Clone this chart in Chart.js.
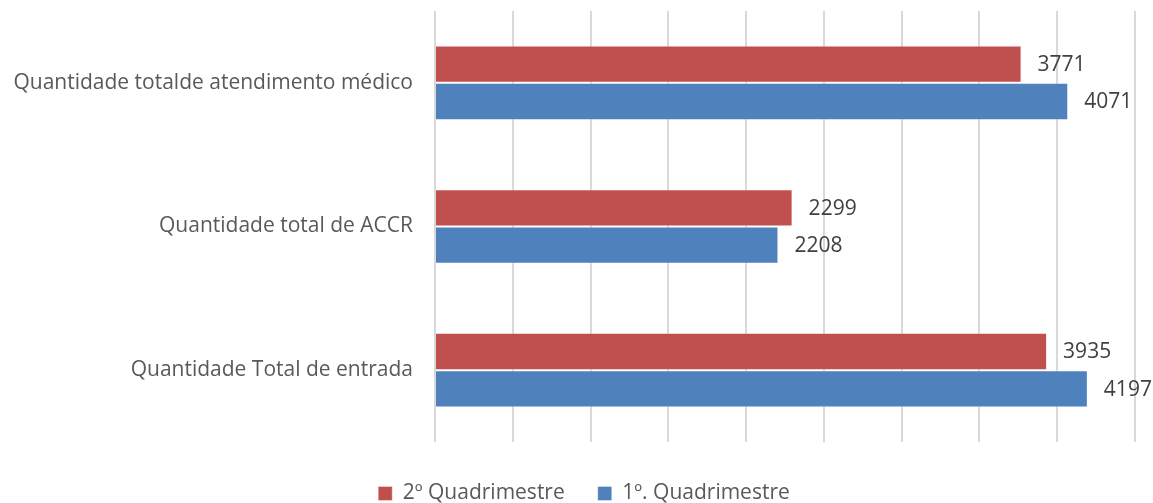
<!DOCTYPE html>
<html>
<head>
<meta charset="utf-8">
<script src="https://cdn.jsdelivr.net/npm/chart.js@4"></script>
<style>
  html, body { margin: 0; padding: 0; background: #fff; }
  #wrap { width: 1153px; height: 503px; }
</style>
</head>
<body>
<div id="wrap"><canvas id="quadChart"></canvas></div>
<script>
// categories, top to bottom
const categories = [
  'Quantidade totalde atendimento médico',
  'Quantidade total de ACCR',
  'Quantidade Total de entrada'
];
const seriesNames = ['2º Quadrimestre', '1º. Quadrimestre'];
const segundoQuad = [3771, 2299, 3935];
const primeiroQuad = [4071, 2208, 4197];
const xTicks = [0, 500, 1000, 1500, 2000, 2500, 3000, 3500, 4000, 4500];

const FONT = '"Open Sans", sans-serif';

// draws the value next to each bar
const valueLabels = {
  id: 'valueLabels',
  afterLayout(chart) {
    // nudge the legend a bit right, it sits centred under the whole picture
    chart.legend.left += 33;
  },
  afterDatasetsDraw(chart) {
    const ctx = chart.ctx;
    ctx.save();
    ctx.font = '21px ' + FONT;
    ctx.fillStyle = '#404040';
    ctx.textAlign = 'left';
    ctx.textBaseline = 'middle';
    chart.data.datasets.forEach((ds, i) => {
      chart.getDatasetMeta(i).data.forEach((bar, j) => {
        ctx.fillText(ds.data[j], bar.x + 16, bar.y + 1);
      });
    });
    ctx.restore();
  }
};

const ctx = document.getElementById('quadChart').getContext('2d');
new Chart(ctx, {
  type: 'bar',
  data: {
    labels: categories,
    datasets: [
      {
        label: seriesNames[0],
        data: segundoQuad,
        backgroundColor: '#C0504D',
        borderColor: 'rgba(255,255,255,0.35)',
        borderWidth: 1
      },
      {
        label: seriesNames[1],
        data: primeiroQuad,
        backgroundColor: '#4F81BD',
        borderColor: 'rgba(255,255,255,0.35)',
        borderWidth: 1
      }
    ]
  },
  options: {
    indexAxis: 'y',
    responsive: true,
    maintainAspectRatio: false,
    animation: false,
    layout: {
      autoPadding: false,
      padding: { top: 11, right: 18, bottom: -11, left: 0 }
    },
    datasets: {
      bar: { categoryPercentage: 0.52, barPercentage: 1 }
    },
    scales: {
      x: {
        min: xTicks[0],
        max: xTicks[xTicks.length - 1],
        afterBuildTicks: (scale) => { scale.ticks = xTicks.map(v => ({ value: v })); },
        afterFit: (scale) => { scale.height = 8; },
        ticks: { display: false },
        grid: { color: '#d9d9d9', lineWidth: 2, drawTicks: false },
        border: { display: false }
      },
      y: {
        afterFit: (scale) => {
          scale.width = 435;
          // labels must not push the plot area down
          scale.paddingTop = 0;
          scale.paddingBottom = 0;
        },
        grid: { display: false, drawTicks: false, tickLength: 0 },
        border: { display: false },
        ticks: {
          color: '#595959',
          font: { family: FONT, size: 21 },
          padding: 22
        }
      }
    },
    plugins: {
      legend: {
        position: 'bottom',
        labels: {
          color: '#595959',
          font: { family: FONT, size: 21 },
          boxWidth: 14,
          boxHeight: 14,
          padding: 33
        }
      },
      tooltip: { enabled: false }
    }
  },
  plugins: [valueLabels]
});
</script>
</body>
</html>
